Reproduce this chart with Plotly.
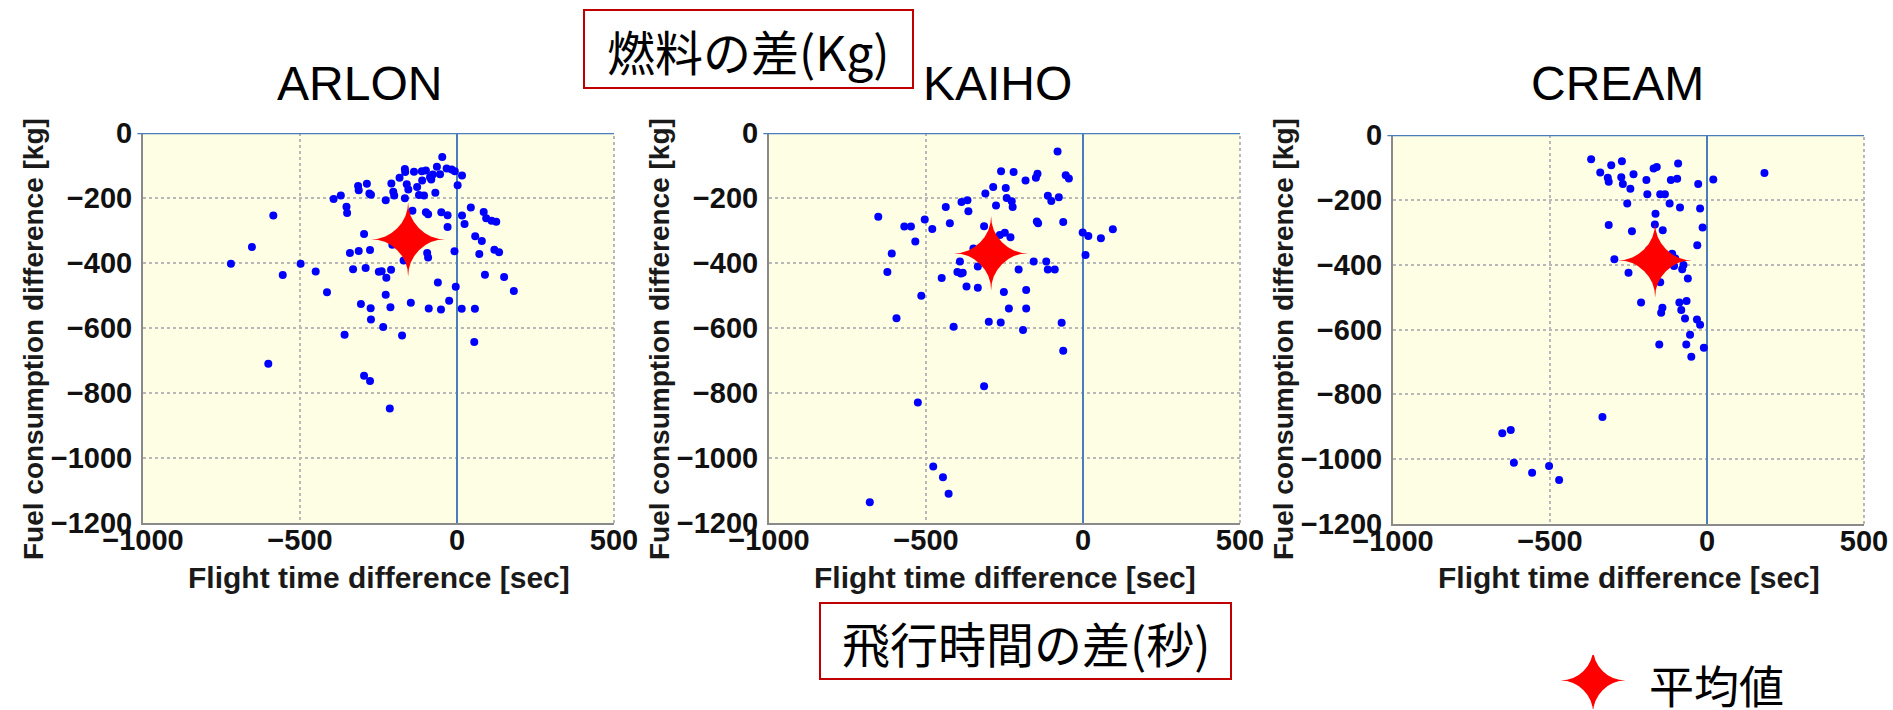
import plotly.graph_objects as go

W, H = 1893, 710

# ---- data: flight time difference [sec] / fuel consumption difference [kg] ----
airports = ["ARLON", "KAIHO", "CREAM"]

arlon_time = [-720, -653, -585, -555, -601, -498, -450, -414, -393, -370,
              -352, -350, -358, -341, -331, -315, -313, -313, -306, -296,
              -296, -291, -287, -279, -274, -277, -275, -274, -277, -249,
              -240, -235, -227, -225, -227, -212, -210, -214, -209, -206,
              -203, -200, -183, -175, -166, -165, -166, -160, -155, -150,
              -148, -147, -142, -137, -170, -127, -121, -112, -111, -105,
              -99, -99, -95, -92, -92, -90, -86, -82, -77, -69,
              -64, -61, -54, -51, -47, -50, -33, -30, -30, -25,
              -17, -8, -4, -7, 2, 16, 16, 24, 15, 44,
              58, 57, 71, 79, 55, 85, 93, 89, 110, 125,
              119, 134, 150, 181]
arlon_fuel = [-402, -351, -254, -437, -710, -402, -426, -490, -203, -192,
              -227, -246, -621, -369, -419, -163, -176, -363, -526, -311,
              -747, -415, -156, -186, -190, -360, -539, -574, -763, -427,
              -425, -597, -207, -445, -498, -536, -421, -848, -155, -344,
              -181, -192, -138, -623, -111, -120, -201, -158, -174, -299,
              -339, -522, -239, -119, -392, -166, -191, -118, -146, -192,
              -115, -244, -369, -383, -250, -540, -136, -143, -128, -184,
              -104, -460, -127, -543, -74, -244, -109, -253, -289, -516,
              -112, -364, -473, -118, -161, -131, -254, -280, -541, -229,
              -318, -541, -372, -332, -643, -243, -262, -436, -270, -273,
              -359, -367, -443, -486]

kaiho_time = [-679, -652, -623, -609, -594, -569, -548, -534, -526, -515,
              -504, -480, -477, -450, -446, -437, -428, -424, -412, -400,
              -392, -389, -383, -387, -368, -365, -371, -349, -335, -335,
              -315, -311, -315, -300, -286, -277, -265, -261, -262, -256,
              -252, -249, -246, -243, -236, -231, -227, -224, -221, -205,
              -191, -183, -181, -181, -157, -150, -145, -147, -143, -117,
              -112, -112, -101, -90, -81, -77, -68, -63, -63, -55,
              -45, -1, 17, 8, 57, 95]
kaiho_fuel = [-1136, -258, -428, -371, -570, -288, -288, -334, -829, -501,
              -266, -295, -1026, -446, -1059, -228, -1110, -278, -596, -428,
              -395, -432, -430, -212, -207, -241, -472, -355, -411, -476,
              -287, -186, -779, -581, -166, -223, -314, -118, -583, -363,
              -489, -307, -169, -200, -540, -321, -210, -228, -120, -420,
              -606, -146, -483, -540, -395, -138, -125, -272, -278, -395,
              -193, -420, -209, -420, -57, -198, -584, -274, -670, -130,
              -140, -306, -317, -375, -324, -296]

cream_time = [-369, -340, -305, -271, -316, -313, -273, -268, -234, -244,
              -193, -170, -160, -92, -95, -115, -28, 20, 183, -190,
              -149, -134, -254, -119, -86, -22, -164, -313, -166, -141,
              -14, -239, -31, -185, -153, -295, -111, -101, -75, -105,
              -79, -250, -149, -61, -210, -88, -65, -142, -146, -82,
              -70, -32, -22, -54, -152, -66, -10, -50, -333, -652,
              -625, -615, -557, -503, -471]
cream_fuel = [-75, -116, -93, -81, -132, -144, -130, -151, -121, -166,
              -139, -103, -99, -88, -135, -139, -151, -137, -117, -183,
              -183, -183, -211, -211, -224, -227, -243, -278, -276, -294,
              -285, -297, -340, -355, -353, -383, -366, -381, -401, -404,
              -414, -425, -454, -443, -517, -517, -512, -533, -548, -540,
              -566, -569, -585, -616, -646, -646, -656, -684, -870, -920,
              -910, -1011, -1042, -1021, -1064]

# mean (average) point of each airport: [time, fuel]
mean_time = [-157, -293, -166]
mean_fuel = [-331, -376, -392]

x_ticks = [-1000, -500, 0, 500]
y_ticks = [0, -200, -400, -600, -800, -1000, -1200]

x_title = "Flight time difference [sec]"
y_title = "Fuel consumption difference [kg]"
fuel_box_text = "燃料の差(Kg)"
time_box_text = "飛行時間の差(秒)"
mean_label = "平均値"
STAR = "✦"

series = [(arlon_time, arlon_fuel), (kaiho_time, kaiho_fuel), (cream_time, cream_fuel)]

# ---- layout helpers (pixel -> paper) ----
def px(x):
    return x / W


def py(y):
    return 1 - y / H


# plot-area boxes in pixels: (left, right, top, bottom)
panels = [(143, 614, 133, 523), (769, 1240, 133, 523), (1393, 1864, 135, 524)]
title_pos = [(359, 84), (997, 84), (1617, 84)]

LATIN = "Liberation Sans, Arial, sans-serif"
CJK = "Noto Sans CJK JP, sans-serif"
BLUE_LINE = "#4A7EBB"
GRID = "#B8B8B8"
STAR_RED = "#FF0000"

fig = go.Figure()
shapes = []
annotations = []

for i, ((t, f), (l, r, top, bot)) in enumerate(zip(series, panels)):
    n = "" if i == 0 else str(i + 1)
    xa, ya = "x" + n, "y" + n
    fig.add_trace(go.Scatter(
        x=t, y=f, mode="markers", xaxis=xa, yaxis=ya,
        marker=dict(color="#0000FF", size=8), showlegend=False,
        hoverinfo="x+y"))

    # mean point: four-pointed red star placed on the panel's axes
    annotations.append(dict(text=STAR, xref=xa, yref=ya,
                            x=mean_time[i], y=mean_fuel[i], showarrow=False,
                            xanchor="center", yanchor="middle",
                            font=dict(family="DejaVu Sans", size=98,
                                      color=STAR_RED)))

    common = dict(showgrid=True, gridcolor=GRID, griddash="dot", gridwidth=2,
                  showline=True, linecolor="#8A8A8A", linewidth=2,
                  tickfont=dict(family=LATIN, size=29, color="#111111",
                                weight="bold"),
                  automargin=False, fixedrange=True)
    fig.update_layout(**{
        ("xaxis" + n): dict(common, domain=[px(l), px(r)], range=[-1000, 500],
                            tickmode="array", tickvals=x_ticks, anchor=ya,
                            ticks="", ticklabelstandoff=-10,
                            zeroline=True, zerolinecolor=BLUE_LINE,
                            zerolinewidth=2),
        ("yaxis" + n): dict(common, domain=[py(bot), py(top)], range=[-1200, 0],
                            tickmode="array", tickvals=y_ticks, anchor=xa,
                            ticks="outside", ticklen=3,
                            tickcolor="rgba(0,0,0,0)", zeroline=False),
    })

    # blue line along zero fuel, dotted right border
    shapes.append(dict(type="line", xref=xa + " domain", x0=-0.012, x1=1.0,
                       yref=ya, y0=0, y1=0, line=dict(color=BLUE_LINE, width=2.5)))
    shapes.append(dict(type="line", xref=xa + " domain", x0=1, x1=1,
                       yref=ya + " domain", y0=0, y1=1,
                       line=dict(color=GRID, width=2, dash="dot"), layer="below"))

    cx = (l + r) / 2
    annotations.append(dict(text=x_title, xref="paper", yref="paper",
                            x=px(cx), y=py(577), showarrow=False,
                            xanchor="center", yanchor="middle",
                            font=dict(family=LATIN, size=30, color="#1A1A1A",
                                      weight="bold")))
    annotations.append(dict(text=y_title, xref="paper", yref="paper",
                            x=px(l - 110), y=py(339), showarrow=False,
                            textangle=-90, xanchor="center", yanchor="middle",
                            font=dict(family=LATIN, size=28, color="#1A1A1A",
                                      weight="bold")))
    tx, ty = title_pos[i]
    annotations.append(dict(text=airports[i], xref="paper", yref="paper",
                            x=px(tx), y=py(ty), showarrow=False,
                            xanchor="center", yanchor="middle",
                            font=dict(family=LATIN, size=48, color="#000000")))

# red-framed captions
for (x0, y0, x1, y1), txt in [((584, 10, 913, 88), fuel_box_text),
                               ((820, 603, 1231, 679), time_box_text)]:
    shapes.append(dict(type="rect", xref="paper", yref="paper",
                       x0=px(x0), x1=px(x1), y0=py(y1), y1=py(y0),
                       line=dict(color="#C00000", width=2), fillcolor="white"))
    annotations.append(dict(text=txt, xref="paper", yref="paper",
                            x=px((x0 + x1) / 2), y=py((y0 + y1) / 2 + 1),
                            showarrow=False, xanchor="center", yanchor="middle",
                            font=dict(family=CJK, size=48, color="#000000")))

# legend key for the mean marker
annotations.append(dict(text=STAR, xref="paper", yref="paper", x=px(1593), y=py(682),
                        showarrow=False, xanchor="center", yanchor="middle",
                        height=54, valign="middle",
                        font=dict(family="DejaVu Sans", size=86, color=STAR_RED)))
annotations.append(dict(text=mean_label, xref="paper", yref="paper",
                        x=px(1716), y=py(684), showarrow=False,
                        xanchor="center", yanchor="middle",
                        height=48, valign="middle",
                        font=dict(family=CJK, size=45, color="#000000")))

fig.update_layout(
    width=W, height=H, margin=dict(l=0, r=0, t=0, b=0),
    paper_bgcolor="white", plot_bgcolor="#FEFEE4",
    template="none", showlegend=False,
    shapes=shapes, annotations=annotations,
)

fig.write_html("out.html", config={"displayModeBar": False})
